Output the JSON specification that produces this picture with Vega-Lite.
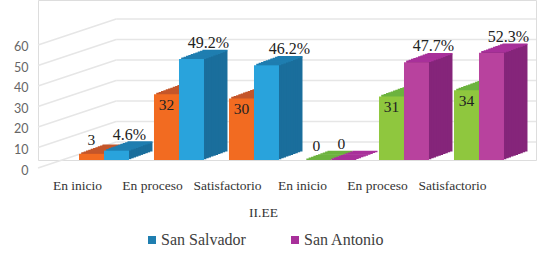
{"$schema":"https://vega.github.io/schema/vega-lite/v6.json","width":498,"height":160,"autosize":"none","padding":{"left":38,"right":17,"top":0,"bottom":104},"background":"white",
"datasets":{"barras":[
{"celda":"San Salvador · En inicio · n","barra":"Cantidad","serie":"San Salvador (n)","valor":3,"etiqueta":"3"},
{"celda":"San Salvador · En inicio · %","barra":"Porcentaje","serie":"San Salvador","valor":4.6,"etiqueta":"4.6%"},
{"celda":"San Salvador · En proceso · n","barra":"Cantidad","serie":"San Salvador (n)","valor":32,"etiqueta":"32"},
{"celda":"San Salvador · En proceso · %","barra":"Porcentaje","serie":"San Salvador","valor":49.2,"etiqueta":"49.2%"},
{"celda":"San Salvador · Satisfactorio · n","barra":"Cantidad","serie":"San Salvador (n)","valor":30,"etiqueta":"30"},
{"celda":"San Salvador · Satisfactorio · %","barra":"Porcentaje","serie":"San Salvador","valor":46.2,"etiqueta":"46.2%"},
{"celda":"San Antonio · En inicio · n","barra":"Cantidad","serie":"San Antonio (n)","valor":0,"etiqueta":"0"},
{"celda":"San Antonio · En inicio · %","barra":"Porcentaje","serie":"San Antonio","valor":0,"etiqueta":"0"},
{"celda":"San Antonio · En proceso · n","barra":"Cantidad","serie":"San Antonio (n)","valor":31,"etiqueta":"31"},
{"celda":"San Antonio · En proceso · %","barra":"Porcentaje","serie":"San Antonio","valor":47.7,"etiqueta":"47.7%"},
{"celda":"San Antonio · Satisfactorio · n","barra":"Cantidad","serie":"San Antonio (n)","valor":34,"etiqueta":"34"},
{"celda":"San Antonio · Satisfactorio · %","barra":"Porcentaje","serie":"San Antonio","valor":52.3,"etiqueta":"52.3%"}
],"rejilla":[{"nivel":0},{"nivel":10},{"nivel":20},{"nivel":30},{"nivel":40},{"nivel":50},{"nivel":60}]},
"resolve":{"scale":{"x":"independent"}},
"layer":[
{"data":{"name":"rejilla"},"transform":[{"calculate":"datum.nivel-12.7","as":"frente"}],
"layer":[
{"mark":{"type":"rule","color":"#e6e6e6","strokeWidth":1.5,"yOffset":-18},"encoding":{"x":{"datum":0.157,"type":"quantitative","scale":{"domain":[0,1],"nice":false,"zero":false},"axis":null},"x2":{"datum":1},"y":{"field":"nivel","type":"quantitative","scale":{"domain":[0,78],"nice":false},"axis":{"title":null,"values":[0,10,20,30,40,50,60],"labelOverlap":false,"labelOffset":10,"labelPadding":10,"labelFont":"Lato","labelFontSize":12.5,"labelColor":"#666666","domain":false,"ticks":false,"grid":false}}}},
{"mark":{"type":"rule","color":"#e6e6e6","strokeWidth":1.5,"yOffset":-18,"y2Offset":-18},"encoding":{"x":{"datum":0,"type":"quantitative","scale":{"domain":[0,1],"nice":false,"zero":false},"axis":null},"x2":{"datum":0.157},"y":{"field":"frente","type":"quantitative","axis":{"title":null,"values":[0,10,20,30,40,50,60],"labelOverlap":false,"labelOffset":10,"labelPadding":10,"labelFont":"Lato","labelFontSize":12.5,"labelColor":"#666666","domain":false,"ticks":false,"grid":false}},"y2":{"field":"nivel"}}}
]},
{"data":{"name":"barras"},
"encoding":{
"x":{"field":"celda","type":"nominal","sort":null,"scale":{"domain":["San Salvador · En inicio · n","San Salvador · En inicio · %","hueco 1","San Salvador · En proceso · n","San Salvador · En proceso · %","hueco 2","San Salvador · Satisfactorio · n","San Salvador · Satisfactorio · %","hueco 3","San Antonio · En inicio · n","San Antonio · En inicio · %","hueco 4","San Antonio · En proceso · n","San Antonio · En proceso · %","hueco 5","San Antonio · Satisfactorio · n","San Antonio · Satisfactorio · %","hueco 6"],"paddingInner":0,"paddingOuter":0.96,"align":0.854},"axis":{"title":"II.EE","values":["San Salvador · En inicio · n","San Salvador · En proceso · n","San Salvador · Satisfactorio · n","San Antonio · En inicio · n","San Antonio · En proceso · n","San Antonio · Satisfactorio · n"],"titleFont":"Liberation Serif","titleFontSize":13.5,"titleFontWeight":"normal","titleColor":"#333333","titleX":225,"titleY":45,"labelExpr":"split(datum.label,' · ')[1]","labelAngle":0,"labelOffset":-14,"labelFont":"Liberation Serif","labelFontSize":13.5,"labelColor":"#333333","labelPadding":18,"labelOverlap":false,"domain":false,"ticks":false,"grid":false}},
"y":{"field":"valor","type":"quantitative","axis":{"title":null,"values":[0,10,20,30,40,50,60],"labelOverlap":false,"labelOffset":10,"labelPadding":10,"labelFont":"Lato","labelFontSize":12.5,"labelColor":"#666666","domain":false,"ticks":false,"grid":false}}
},
"layer":[
{"mark":{"type":"bar","xOffset":23.5,"yOffset":-8.5,"y2Offset":-8.5},"encoding":{"fill":{"field":"serie","legend":null,"scale":{"domain":["San Antonio","San Antonio (n)","San Salvador","San Salvador (n)"],"range":["#85257a","#6cb33f","#1a6e9c","#c55a2a"]}}}},
{"mark":{"type":"bar","xOffset":23.5,"yOffset":-8.5,"y2Offset":-8.5,"strokeWidth":1.5},"encoding":{"y2":{"field":"valor"},"stroke":{"field":"serie","title":null,"scale":{"domain":["San Salvador","San Salvador (n)","San Antonio","San Antonio (n)"],"range":["#1f7eb0","#c4562a","#a8309a","#6cb33f"]},"legend":{"orient":"none","legendX":106,"legendY":232,"direction":"horizontal","columns":2,"columnPadding":39,"values":["San Salvador","San Antonio"],"symbolType":"square","symbolSize":16,"symbolStrokeWidth":4,"labelFont":"Liberation Serif","labelFontSize":16,"labelColor":"#404040","labelOffset":1,"labelLimit":200}}}},
{"mark":{"type":"bar","xOffset":21.15,"yOffset":-7.65,"y2Offset":-7.65},"encoding":{"fill":{"field":"serie","legend":null}}},
{"mark":{"type":"bar","xOffset":21.15,"yOffset":-7.65,"y2Offset":-7.65,"strokeWidth":1.5},"encoding":{"y2":{"field":"valor"},"stroke":{"field":"serie"}}},
{"mark":{"type":"bar","xOffset":18.8,"yOffset":-6.8,"y2Offset":-6.8},"encoding":{"fill":{"field":"serie","legend":null}}},
{"mark":{"type":"bar","xOffset":18.8,"yOffset":-6.8,"y2Offset":-6.8,"strokeWidth":1.5},"encoding":{"y2":{"field":"valor"},"stroke":{"field":"serie"}}},
{"mark":{"type":"bar","xOffset":16.45,"yOffset":-5.95,"y2Offset":-5.95},"encoding":{"fill":{"field":"serie","legend":null}}},
{"mark":{"type":"bar","xOffset":16.45,"yOffset":-5.95,"y2Offset":-5.95,"strokeWidth":1.5},"encoding":{"y2":{"field":"valor"},"stroke":{"field":"serie"}}},
{"mark":{"type":"bar","xOffset":14.1,"yOffset":-5.1,"y2Offset":-5.1},"encoding":{"fill":{"field":"serie","legend":null}}},
{"mark":{"type":"bar","xOffset":14.1,"yOffset":-5.1,"y2Offset":-5.1,"strokeWidth":1.5},"encoding":{"y2":{"field":"valor"},"stroke":{"field":"serie"}}},
{"mark":{"type":"bar","xOffset":11.75,"yOffset":-4.25,"y2Offset":-4.25},"encoding":{"fill":{"field":"serie","legend":null}}},
{"mark":{"type":"bar","xOffset":11.75,"yOffset":-4.25,"y2Offset":-4.25,"strokeWidth":1.5},"encoding":{"y2":{"field":"valor"},"stroke":{"field":"serie"}}},
{"mark":{"type":"bar","xOffset":9.4,"yOffset":-3.4,"y2Offset":-3.4},"encoding":{"fill":{"field":"serie","legend":null}}},
{"mark":{"type":"bar","xOffset":9.4,"yOffset":-3.4,"y2Offset":-3.4,"strokeWidth":1.5},"encoding":{"y2":{"field":"valor"},"stroke":{"field":"serie"}}},
{"mark":{"type":"bar","xOffset":7.05,"yOffset":-2.55,"y2Offset":-2.55},"encoding":{"fill":{"field":"serie","legend":null}}},
{"mark":{"type":"bar","xOffset":7.05,"yOffset":-2.55,"y2Offset":-2.55,"strokeWidth":1.5},"encoding":{"y2":{"field":"valor"},"stroke":{"field":"serie"}}},
{"mark":{"type":"bar","xOffset":4.7,"yOffset":-1.7,"y2Offset":-1.7},"encoding":{"fill":{"field":"serie","legend":null}}},
{"mark":{"type":"bar","xOffset":4.7,"yOffset":-1.7,"y2Offset":-1.7,"strokeWidth":1.5},"encoding":{"y2":{"field":"valor"},"stroke":{"field":"serie"}}},
{"mark":{"type":"bar","xOffset":2.35,"yOffset":-0.85,"y2Offset":-0.85},"encoding":{"fill":{"field":"serie","legend":null}}},
{"mark":{"type":"bar","xOffset":2.35,"yOffset":-0.85,"y2Offset":-0.85,"strokeWidth":1.5},"encoding":{"y2":{"field":"valor"},"stroke":{"field":"serie"}}},
{"mark":{"type":"bar"},"encoding":{
"color":{"field":"serie","legend":null,"scale":{"domain":["San Salvador (n)","San Salvador","San Antonio (n)","San Antonio"],"range":["#f26b21","#29a3dc","#8fc73e","#b8429e"]}}
}},
{"transform":[{"filter":"datum.barra==='Cantidad' && datum.valor>=10"}],"mark":{"type":"text","font":"Liberation Serif","fontSize":15.5,"color":"#222222","yOffset":11},"encoding":{"text":{"field":"etiqueta"}}},
{"transform":[{"filter":"datum.barra==='Cantidad' && datum.valor<10"}],"mark":{"type":"text","font":"Liberation Serif","fontSize":15.5,"color":"#222222","yOffset":-14},"encoding":{"text":{"field":"etiqueta"}}},
{"transform":[{"filter":"datum.barra==='Porcentaje' && datum.valor>5 && datum.valor!==46.2"}],"mark":{"type":"text","font":"Liberation Serif","fontSize":16,"color":"#222222","xOffset":17,"yOffset":-16},"encoding":{"text":{"field":"etiqueta"}}},
{"transform":[{"filter":"datum.valor===46.2"}],"mark":{"type":"text","font":"Liberation Serif","fontSize":16,"color":"#222222","xOffset":23,"yOffset":-16},"encoding":{"text":{"field":"etiqueta"}}},
{"transform":[{"filter":"datum.valor===4.6"}],"mark":{"type":"text","font":"Liberation Serif","fontSize":16,"color":"#222222","xOffset":13,"yOffset":-16},"encoding":{"text":{"field":"etiqueta"}}},
{"transform":[{"filter":"datum.barra==='Porcentaje' && datum.valor===0"}],"mark":{"type":"text","font":"Liberation Serif","fontSize":15.5,"color":"#222222","yOffset":-16},"encoding":{"text":{"field":"etiqueta"}}}
]}
]}
